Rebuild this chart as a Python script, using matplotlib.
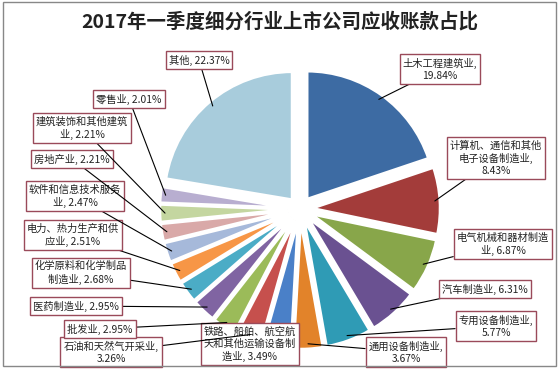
import matplotlib
matplotlib.use("Agg")
import matplotlib.pyplot as plt
import matplotlib.patches as mpatches
import numpy as np

plt.rcParams['font.family'] = ['Noto Sans CJK SC', 'DejaVu Sans']

title = "2017年一季度细分行业上市公司应收账款占比"
labels = ["土木工程建筑业,\n19.84%",
          "计算机、通信和其他\n电子设备制造业,\n8.43%",
          "电气机械和器材制造\n业, 6.87%",
          "汽车制造业, 6.31%",
          "专用设备制造业,\n5.77%",
          "通用设备制造业,\n3.67%",
          "铁路、船舶、航空航\n天和其他运输设备制\n造业, 3.49%",
          "石油和天然气开采业,\n3.26%",
          "批发业, 2.95%",
          "医药制造业, 2.95%",
          "化学原料和化学制品\n制造业, 2.68%",
          "电力、热力生产和供\n应业, 2.51%",
          "软件和信息技术服务\n业, 2.47%",
          "房地产业, 2.21%",
          "建筑装饰和其他建筑\n业, 2.21%",
          "零售业, 2.01%",
          "其他, 22.37%"]
values = [19.84, 8.43, 6.87, 6.31, 5.77, 3.67, 3.49, 3.26, 2.95, 2.95,
          2.68, 2.51, 2.47, 2.21, 2.21, 2.01, 22.37]
colors = ["#3D6BA3", "#A33C3A", "#88A64A", "#6A5191", "#2F9BB5", "#E2832A",
          "#4A80C8", "#C6504D", "#9BBB59", "#8064A2", "#4BACC6", "#F79646",
          "#A6B9DA", "#D9A9A8", "#C4D6A0", "#B8AED0", "#A8CCDC"]
# label box centers (image pixels, y from top)
label_pos = [(440, 69), (496, 158), (503, 244), (485, 289), (496, 326),
             (406, 352), (250, 344), (111, 352), (100, 329), (76, 306),
             (81, 273), (73, 235), (75, 196), (72, 159), (82, 128),
             (129, 99), (199, 60)]

W, H = 559, 370
fig = plt.figure(figsize=(W / 100, H / 100), dpi=100)
fig.patch.set_facecolor("white")

# pie axes: center (300, 209) px, 1 unit = 128 px
unit = 128
cx, cy = 300, 209
lim = 1.2
aw = 2 * lim * unit
ax = fig.add_axes([(cx - aw / 2) / W, (H - cy - aw / 2) / H, aw / W, aw / H])
ax.set_xlim(-lim, lim)
ax.set_ylim(-lim, lim)
ax.set_aspect('equal')
ax.axis('off')

explode = 0.095
wedges, _ = ax.pie(values, colors=colors, startangle=90, counterclock=False,
                   explode=[explode] * len(values), radius=1.0,
                   wedgeprops=dict(edgecolor='white', linewidth=2.0))
ax.set_xlim(-lim, lim)
ax.set_ylim(-lim, lim)

total = sum(values)
cum = np.cumsum([0] + values)
for i, (lab, (px, py)) in enumerate(zip(labels, label_pos)):
    mid = (cum[i] + cum[i + 1]) / 2 / total
    ang = np.deg2rad(90 - 360 * mid)
    r = 0.96 + explode
    xy = (r * np.cos(ang), r * np.sin(ang))
    ax.annotate(lab, xy=xy, xycoords='data',
                xytext=(px, H - py), textcoords='figure pixels',
                ha='center', va='center', multialignment='center',
                fontsize=7.4, color='#222222', linespacing=1.25,
                bbox=dict(boxstyle='square,pad=0.3', facecolor='white',
                          edgecolor='#9A4A5A', linewidth=1.0),
                arrowprops=dict(arrowstyle='-', color='black', lw=0.8,
                                shrinkA=0, shrinkB=0),
                annotation_clip=False)

fig.text(0.5, (H - 22) / H, title, ha='center', va='center',
         fontsize=14, fontweight='bold', color='#222222')

fig.patches.append(mpatches.Rectangle((3 / W, 4 / H), 553 / W, 364 / H,
                                      transform=fig.transFigure, fill=False,
                                      edgecolor='#888888', linewidth=1.0))

fig.savefig("out.png", dpi=100)
